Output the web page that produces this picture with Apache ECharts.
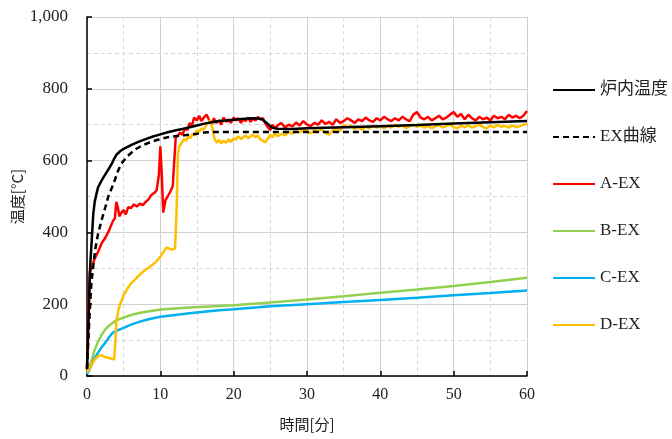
<!DOCTYPE html>
<html><head><meta charset="utf-8">
<script src="https://cdn.jsdelivr.net/npm/echarts@6/dist/echarts.min.js"></script>
<style>html,body{margin:0;padding:0;background:#fff}#c{width:672px;height:439px}</style>
</head><body><div id="c"></div>
<script>
const seriesNames = ['炉内温度','EX曲線','A-EX','B-EX','C-EX','D-EX'];
const xTicks = [0,10,20,30,40,50,60];
const yTicks = [0,200,400,600,800,1000];

const furnace = [[0,20],[0.2,150],[0.4,290],[0.5,330],[0.65,380],[0.85,450],[1.05,485],[1.3,508],[1.5,525],[2,545],[2.45,560],[3,578],[3.4,592],[3.7,605],[4,616],[4.5,626],[5,633],[6,643],[7,652],[8,660],[9,667],[10,673],[11,679],[12,684],[13,688],[14,693],[15,698],[16,703],[17,707],[18,710],[19,712],[20,714],[21,716],[22,717],[23,718],[23.8,716],[24.5,705],[25.2,692],[26,689],[28,688],[30,690],[35,693],[40,696],[45,699],[50,703],[55,707],[60,710]];

const exCurve = [[0,20],[0.3,150],[0.6,260],[1.1,350],[1.5,395],[2,435],[2.5,470],[2.9,500],[3.4,525],[3.8,546],[4.2,570],[4.7,592],[5.5,612],[6.5,630],[7.5,642],[8.8,653],[10,660],[11,665],[12,668],[13.5,671],[15,675],[16.3,679],[18,680],[60,680]];

const aEx = [[0,20],[0.2,200],[0.4,290],[0.7,305],[1,325],[1.5,345],[2,370],[2.5,385],[3,405],[3.5,430],[3.8,440],[4.0,485],[4.2,470],[4.4,445],[4.7,455],[5,462],[5.3,450],[5.6,470],[6,468],[6.4,478],[6.8,472],[7.2,480],[7.6,476],[8,485],[8.4,492],[8.8,505],[9.2,510],[9.5,518],[9.8,560],[10,640],[10.2,560],[10.4,455],[10.7,490],[11,500],[11.4,515],[11.7,530],[11.9,600],[12.1,665],[12.4,670],[12.7,678],[13,672],[13.4,690],[13.7,685],[14,705],[14.3,695],[14.6,720],[15,712],[15.3,725],[15.6,710],[16,722],[16.3,728],[16.6,715],[17,702],[17.3,718],[17.6,705],[18,712],[18.3,700],[18.6,720],[19,708],[19.3,715],[19.6,705],[20,720],[20.3,712],[20.6,718],[21,705],[21.3,716],[21.6,710],[22,720],[22.3,708],[22.6,718],[23,712],[23.3,722],[23.6,715],[24,718],[24.3,705],[24.6,695],[25,685],[25.3,700],[25.6,690],
[26,698],[26.5,705],[27,692],[27.5,700],[28,695],[28.5,706],[29,698],[29.5,710],[30,700],[30.5,696],[31,705],[31.5,700],[32,712],[32.5,702],[33,708],[33.5,700],[34,715],[34.5,705],[35,710],[35.5,718],[36,712],[36.5,705],[37,715],[37.5,710],[38,720],[38.5,712],[39,708],[39.5,718],[40,712],[40.5,722],[41,715],[41.5,710],[42,718],[42.5,712],[43,722],[43.5,715],[44,710],[44.5,728],[45,735],[45.5,720],[46,715],[46.5,722],[47,712],[47.5,718],[48,725],[48.5,715],[49,720],[49.5,728],[50,735],[50.5,722],[51,730],[51.5,715],[52,728],[52.5,718],[53,712],[53.5,722],[54,715],[54.5,720],[55,712],[55.5,725],[56,718],[56.5,722],[57,715],[57.5,728],[58,720],[58.5,725],[59,718],[59.5,725],[60,738]];

const bEx = [[0,5],[0.5,35],[1,70],[1.5,95],[2,115],[2.5,130],[3,140],[3.5,148],[4,155],[5,163],[6,170],[7,175],[8,179],[9,182],[10,185],[12,188],[14,191],[16,193],[18,195],[20,197],[25,205],[30,213],[35,222],[40,232],[45,241],[50,251],[55,262],[60,274]];

const cEx = [[0,5],[0.5,25],[1,48],[1.5,65],[2,80],[2.5,93],[3,108],[3.5,120],[4,126],[4.5,130],[5,134],[6,143],[7,150],[8,156],[9,161],[10,165],[12,170],[14,175],[16,179],[18,183],[20,186],[25,194],[30,200],[35,206],[40,212],[45,218],[50,225],[55,231],[60,238]];

const dEx = [[0,10],[0.3,20],[0.7,35],[1.1,47],[1.5,55],[1.8,58],[2.2,55],[2.6,52],[3,50],[3.4,48],[3.7,46],[3.85,90],[4.0,150],[4.3,185],[4.6,205],[5,225],[5.5,243],[6,258],[6.5,268],[7,278],[7.5,288],[8,296],[8.5,303],[9,311],[9.5,320],[10,332],[10.4,345],[10.8,358],[11.2,355],[11.6,352],[12,355],[12.2,450],[12.4,620],[12.6,640],[12.9,648],[13.2,660],[13.5,655],[13.8,668],[14.1,662],[14.4,675],[14.7,670],[15,685],[15.3,680],[15.6,690],[15.9,685],[16.2,698],[16.5,705],[16.8,712],[17.1,690],[17.4,660],[17.7,650],[18,658],[18.3,648],[18.6,655],[19,650],[19.3,660],[19.6,652],[20,662],[20.3,658],[20.6,668],[21,660],[21.3,665],[21.6,670],[22,662],[22.3,668],[22.6,672],[23,665],[23.3,670],[23.6,660],[24,655],[24.3,650],[24.6,660],[25,672],[25.3,665],[25.6,675],
[26,668],[26.5,675],[27,670],[27.5,680],[28,675],[28.5,682],[29,678],[29.5,688],[30,682],[30.5,676],[31,685],[31.5,680],[32,688],[32.5,678],[33,672],[33.5,684],[34,690],[34.5,682],[35,700],[35.5,692],[36,698],[36.5,688],[37,694],[37.5,686],[38,695],[38.5,690],[39,698],[39.5,692],[40,696],[40.5,690],[41,698],[41.5,692],[42,700],[42.5,694],[43,698],[43.5,690],[44,696],[44.5,700],[45,694],[45.5,698],[46,692],[46.5,697],[47,690],[47.5,695],[48,699],[48.5,692],[49,696],[49.5,700],[50,694],[50.5,690],[51,697],[51.5,693],[52,698],[52.5,692],[53,696],[53.5,700],[54,694],[54.5,690],[55,697],[55.5,693],[56,699],[56.5,694],[57,697],[57.5,692],[58,698],[58.5,693],[59,696],[59.5,700],[60,702]];

const dataSets = [furnace, exCurve, aEx, bEx, cEx, dEx];
const colors = ['#000000','#000000','#ff0000','#92d050','#00b0f0','#ffc000'];
const types = ['solid','dashed','solid','solid','solid','solid'];

const serif = '"Liberation Serif","Noto Sans CJK JP",serif';
const sansJP = '"Noto Sans CJK JP",sans-serif';

const chart = echarts.init(document.getElementById('c'), null, {renderer:'canvas'});
chart.setOption({
  animation:false,
  backgroundColor:'#fff',
  grid:{left:87,right:145,top:17,bottom:63,containLabel:false,outerBoundsMode:'none'},
  legend:{
    orient:'vertical', left:552, top:81, padding:0, itemWidth:42, itemHeight:10, itemGap:29,
    data:seriesNames,
    itemStyle:{opacity:0},
    textStyle:{fontFamily:serif,fontSize:17,color:'#222',lineHeight:18},
  },
  xAxis:{
    type:'value', min:xTicks[0], max:xTicks[xTicks.length-1], interval:10,
    name:'時間[分]', nameLocation:'middle', nameGap:41, nameMoveOverlap:false,
    nameTextStyle:{fontFamily:sansJP,fontSize:15,color:'#222'},
    axisLine:{lineStyle:{color:'#000',width:1.5}},
    axisTick:{inside:true,length:5,lineStyle:{color:'#000',width:1.5}},
    axisLabel:{fontFamily:serif,fontSize:16,color:'#222',margin:11},
    splitLine:{show:true,lineStyle:{color:'#d0d0d0',width:1}},
    minorTick:{show:false,splitNumber:2},
    minorSplitLine:{show:true,lineStyle:{color:'#d8d8d8',width:1,type:[4,3]}}
  },
  yAxis:{
    type:'value', min:yTicks[0], max:yTicks[yTicks.length-1], interval:200,
    name:'温度[°C]', nameLocation:'middle', nameGap:62, nameRotate:90, nameMoveOverlap:false,
    nameTextStyle:{fontFamily:sansJP,fontSize:15,color:'#222'},
    axisLine:{show:true,lineStyle:{color:'#000',width:1.5}},
    axisTick:{show:true,inside:true,length:5,lineStyle:{color:'#000',width:1.5}},
    axisLabel:{fontFamily:serif,fontSize:17,color:'#222',margin:19,
      formatter:v=>v.toLocaleString('en-US')},
    splitLine:{show:true,lineStyle:{color:'#d0d0d0',width:1}},
    minorTick:{show:false,splitNumber:2},
    minorSplitLine:{show:true,lineStyle:{color:'#d8d8d8',width:1,type:[4,3]}}
  },
  series: seriesNames.map((n,i)=>({
    name:n, type:'line', data:dataSets[i], showSymbol:false, symbol:'none',
    color:colors[i],
    lineStyle:{color:colors[i], width:2.5, type: types[i]==='dashed'?[6,4]:'solid'},
    z: i===0||i===1 ? 3 : 2
  }))
});
</script></body></html>
